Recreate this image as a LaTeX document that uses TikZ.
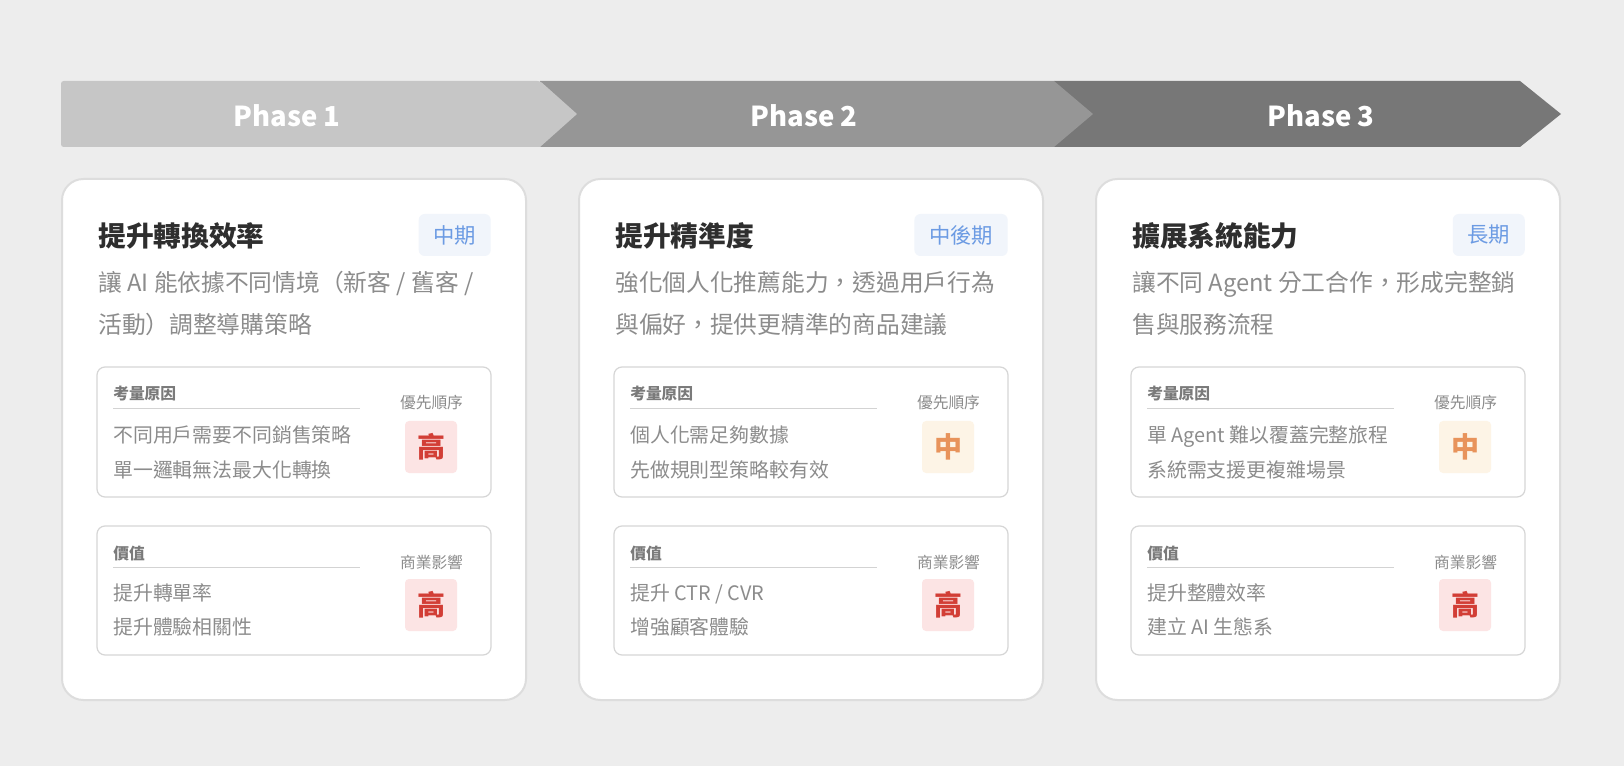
\documentclass[tikz,border=0pt]{standalone}
\usepackage{fontspec}
\setmainfont{Noto Sans CJK TC}
\definecolor{bgc}{HTML}{EDEDED}
\definecolor{ph1}{HTML}{C6C6C6}
\definecolor{ph2}{HTML}{969696}
\definecolor{ph3}{HTML}{777777}
\definecolor{cardborder}{HTML}{DDDDDD}
\definecolor{iboxborder}{HTML}{D6D6D6}
\definecolor{titlec}{HTML}{2E2E2E}
\definecolor{descc}{HTML}{8C8C8C}
\definecolor{hdc}{HTML}{7A7A7A}
\definecolor{linec}{HTML}{D3D3D3}
\definecolor{tagfill}{HTML}{F1F5FB}
\definecolor{tagtext}{HTML}{6C9BE3}
\definecolor{hifill}{HTML}{FCE4E4}
\definecolor{hitext}{HTML}{D23E36}
\definecolor{midfill}{HTML}{FDF4E6}
\definecolor{midtext}{HTML}{E8935B}
\tikzset{
  phasetxt/.style={anchor=base, inner sep=0pt, text=white, font=\fontsize{20.6}{24}\selectfont\bfseries},
  card/.style={fill=white, draw=cardborder, line width=1.5pt, rounded corners=16pt},
  ibox/.style={fill=white, draw=iboxborder, line width=0.9pt, rounded corners=6pt},
  ttl/.style={anchor=base west, inner sep=0pt, text=titlec, font=\fontsize{20.8}{24}\selectfont\bfseries},
  tagbox/.style={anchor=east, fill=tagfill, text=tagtext, rounded corners=4.5pt, inner xsep=11pt, inner ysep=0pt, minimum height=31.5pt, font=\fontsize{16}{18}\selectfont},
  dsc/.style={anchor=base west, inner sep=0pt, text=descc, font=\fontsize{17.8}{20}\selectfont},
  hd/.style={anchor=base west, inner sep=0pt, text=hdc, font=\fontsize{11.8}{14}\selectfont\bfseries},
  itm/.style={anchor=base west, inner sep=0pt, text=descc, font=\fontsize{14.9}{17}\selectfont},
  lbl/.style={anchor=base, inner sep=0pt, text=descc, font=\fontsize{11.8}{14}\selectfont},
  sepline/.style={draw=linec, line width=0.75pt},
  badge/.style={minimum size=39pt, inner sep=0pt, rounded corners=3pt, font=\fontsize{21}{24}\selectfont\bfseries},
  hi/.style={badge, fill=hifill, text=hitext},
  mid/.style={badge, fill=midfill, text=midtext}
}
\begin{document}
\begin{tikzpicture}[x=0.75pt, y=-0.75pt]
\useasboundingbox[fill=bgc] (0,0) rectangle (1624,766);
% banner
\fill[ph3] (1054,81) -- (1520,81) -- (1561,114) -- (1520,147) -- (1054,147) -- cycle;
\fill[ph2] (540,81) -- (1054,81) -- (1093,114) -- (1054,147) -- (540,147) -- cycle;
\fill[ph1, rounded corners=2pt] (61,81) -- (540,81) [sharp corners] -- (577,114) -- (540,147) [rounded corners=2pt] -- (61,147) -- cycle;
\node[phasetxt] (p1) at (287,126.5) {Phase 1};
\node[phasetxt] (p2) at (804,126.5) {Phase 2};
\node[phasetxt] (p3) at (1321,126.5) {Phase 3};

% ---------- card 1 ----------
\begin{scope}
\draw[card] (62,179) rectangle (526,700);
\node[ttl] (t1) at (98,247) {提升轉換效率};
\node[tagbox] (g1) at (491,235) {中期};
\node[dsc] (d1a) at (98,292) {讓 AI 能依據不同情境（新客 / 舊客 /};
\node[dsc] (d1b) at (98,334) {活動）調整導購策略};
\draw[ibox] (97,367) rectangle (491,497);
\node[hd] (h1a) at (113,400) {考量原因};
\draw[sepline] (113,409) -- (360,409);
\node[itm] (i1a) at (113,442.5) {不同用戶需要不同銷售策略};
\node[itm] (i1b) at (113,477.5) {單一邏輯無法最大化轉換};
\node[lbl] (l1a) at (431.5,409) {優先順序};
\node[hi] (b1a) at (431,447) {高};
\draw[ibox] (97,526) rectangle (491,655);
\node[hd] (h1b) at (113,559) {價值};
\draw[sepline] (113,567) -- (360,567);
\node[itm] (i1c) at (113,600.5) {提升轉單率};
\node[itm] (i1d) at (113,634.5) {提升體驗相關性};
\node[lbl] (l1b) at (431.5,568) {商業影響};
\node[hi] (b1b) at (431,605) {高};
\end{scope}

% ---------- card 2 ----------
\begin{scope}[xshift=387.75pt]
\draw[card] (62,179) rectangle (526,700);
\node[ttl] (t2) at (98,247) {提升精準度};
\node[tagbox] (g2) at (491,235) {中後期};
\node[dsc] (d2a) at (98,292) {強化個人化推薦能力，透過用戶行為};
\node[dsc] (d2b) at (98,334) {與偏好，提供更精準的商品建議};
\draw[ibox] (97,367) rectangle (491,497);
\node[hd] (h2a) at (113,400) {考量原因};
\draw[sepline] (113,409) -- (360,409);
\node[itm] (i2a) at (113,442.5) {個人化需足夠數據};
\node[itm] (i2b) at (113,477.5) {先做規則型策略較有效};
\node[lbl] (l2a) at (431.5,409) {優先順序};
\node[mid] (b2a) at (431,447) {中};
\draw[ibox] (97,526) rectangle (491,655);
\node[hd] (h2b) at (113,559) {價值};
\draw[sepline] (113,567) -- (360,567);
\node[itm] (i2c) at (113,600.5) {提升 CTR / CVR};
\node[itm] (i2d) at (113,634.5) {增強顧客體驗};
\node[lbl] (l2b) at (431.5,568) {商業影響};
\node[hi] (b2b) at (431,605) {高};
\end{scope}

% ---------- card 3 ----------
\begin{scope}[xshift=775.5pt]
\draw[card] (62,179) rectangle (526,700);
\node[ttl] (t3) at (98,247) {擴展系統能力};
\node[tagbox] (g3) at (491,235) {長期};
\node[dsc] (d3a) at (98,292) {讓不同 Agent 分工合作，形成完整銷};
\node[dsc] (d3b) at (98,334) {售與服務流程};
\draw[ibox] (97,367) rectangle (491,497);
\node[hd] (h3a) at (113,400) {考量原因};
\draw[sepline] (113,409) -- (360,409);
\node[itm] (i3a) at (113,442.5) {單 Agent 難以覆蓋完整旅程};
\node[itm] (i3b) at (113,477.5) {系統需支援更複雜場景};
\node[lbl] (l3a) at (431.5,409) {優先順序};
\node[mid] (b3a) at (431,447) {中};
\draw[ibox] (97,526) rectangle (491,655);
\node[hd] (h3b) at (113,559) {價值};
\draw[sepline] (113,567) -- (360,567);
\node[itm] (i3c) at (113,600.5) {提升整體效率};
\node[itm] (i3d) at (113,634.5) {建立 AI 生態系};
\node[lbl] (l3b) at (431.5,568) {商業影響};
\node[hi] (b3b) at (431,605) {高};
\end{scope}
\end{tikzpicture}
\end{document}
